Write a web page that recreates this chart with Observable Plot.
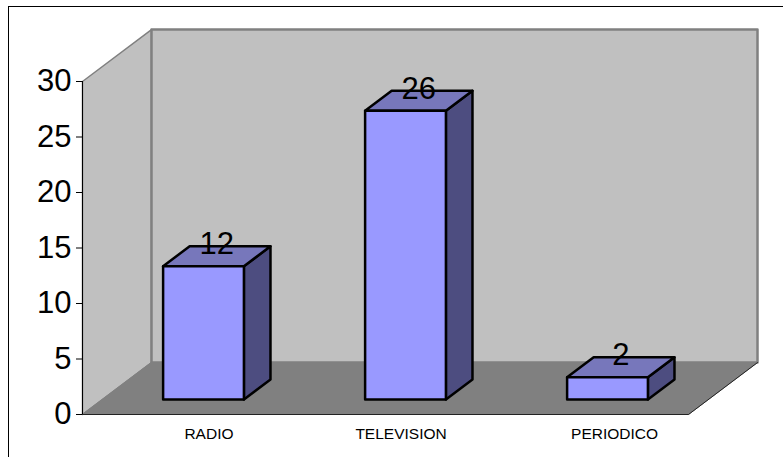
<!DOCTYPE html>
<html>
<head>
<meta charset="utf-8">
<script src="https://cdn.jsdelivr.net/npm/d3@7"></script>
<script src="https://cdn.jsdelivr.net/npm/@observablehq/plot@0.6"></script>
<style>
  html, body { margin: 0; padding: 0; background: #fff; overflow: hidden; }
  #box { position: absolute; left: 8px; top: 6px; width: 800px; height: 480px; border-left: 1.5px solid #000; border-top: 1.5px solid #000; }
  #chart { position: absolute; left: 0; top: 0; }
  #chart svg { background: transparent; display: block; }
</style>
</head>
<body>
<div id="box"></div>
<svg width="0" height="0" style="position:absolute"><clipPath id="labelClip" clipPathUnits="userSpaceOnUse"><rect x="0" y="0" width="783" height="439"></rect></clipPath></svg>
<div id="chart"></div>
<script>
const categories = ["RADIO", "TELEVISION", "PERIODICO"];
const values = [12, 26, 2];
const yTicks = [0, 5, 10, 15, 20, 25, 30];

// Oblique projection of the 3-D box, in axis units
const depthX = 0.3416, depthY = 4.68;
const barLo = 0.3, barHi = 0.7, zFront = 0.29, zBack = 0.675;
const labelCentre = [0.626, 0.577, 0.634];
const P = (x, y, z) => ({x: x + z * depthX, y: y + z * depthY});
const poly = (id, pts) => pts.map(([x, y, z]) => ({id, ...P(x, y, z)}));

const sideWall = poly("side", [[0,0,0],[0,30,0],[0,30,1],[0,0,1]]);
const backWall = poly("back", [[0,0,1],[0,30,1],[3,30,1],[3,0,1]]);
const floor = poly("floor", [[0,0,0],[3,0,0],[3,0,1],[0,0,1]]);

const fronts = values.flatMap((v, i) => poly(i, [[i+barLo,0,zFront],[i+barHi,0,zFront],[i+barHi,v,zFront],[i+barLo,v,zFront]]));
const tops = values.flatMap((v, i) => poly(i, [[i+barLo,v,zFront],[i+barHi,v,zFront],[i+barHi,v,zBack],[i+barLo,v,zBack]]));
const sides = values.flatMap((v, i) => poly(i, [[i+barHi,0,zFront],[i+barHi,v,zFront],[i+barHi,v,zBack],[i+barHi,0,zBack]]));

const face = (data, fill, stroke, strokeWidth) =>
  Plot.line(data, {x: "x", y: "y", z: "id", curve: "linear-closed", fill, stroke, strokeWidth});

const plot = Plot.plot({
  width: 783, height: 457,
  marginLeft: 82, marginRight: 95, marginTop: 81, marginBottom: 43,
  style: {fontFamily: "Liberation Sans, Arial, sans-serif", color: "#000"},
  x: {domain: [0, 3], axis: null},
  y: {domain: [0, 30], axis: null},
  marks: [
    face(sideWall, "#c0c0c0", "#808080", 1.5),
    face(backWall, "#c0c0c0", "#808080", 2.5),
    face(floor, "#808080", "#808080", 1),
    Plot.line(poly("edge", [[3,0,0],[3,0,1]]), {x: "x", y: "y", stroke: "#222", strokeWidth: 1}),
    Plot.ruleY([0], {x1: 0, x2: 3, stroke: "#222", strokeWidth: 1}),
    Plot.axisY({
      ticks: yTicks, tickSize: 6, tickPadding: 5, fontSize: 31, stroke: "#000",
      label: null, marginLeft: 82
    }),
    Plot.ruleX([0], {y1: 0, y2: 30, stroke: "#000", strokeWidth: 1}),
    face(sides, "#4d4d80", "#000", 2.5),
    face(tops, "#7777bb", "#000", 2.5),
    face(fronts, "#9999ff", "#000", 2.5),
    Plot.text(values.map((v, i) => ({v, ...P(i + 0.5, v, (zFront + zBack) / 2)})), {
      x: "x", y: "y", text: "v", dy: -12, fontSize: 31, fill: "#000", lineAnchor: "middle"
    }),
    Plot.text(categories.map((c, i) => ({c, x: i + labelCentre[i]})), {
      x: "x", y: 0, text: "c", fontSize: 15.5, fill: "#000",
      lineAnchor: "top", dy: 13,
      render(index, scales, vals, dims, ctx, next) {
        const g = next(index, scales, vals, dims, ctx);
        g.setAttribute("clip-path", "url(#labelClip)");
        return g;
      }
    })
  ]
});
document.getElementById("chart").appendChild(plot);
</script>
</body>
</html>
